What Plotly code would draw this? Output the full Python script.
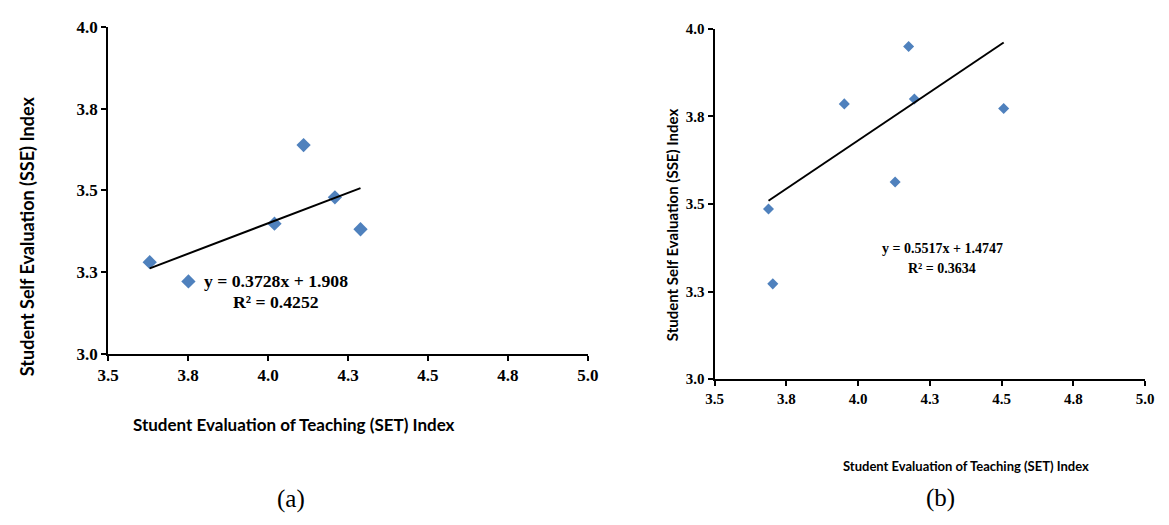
import plotly.graph_objects as go

# ---- data: panel (a)
set_a = [3.630, 3.751, 4.020, 4.111, 4.209, 4.289]
sse_a = [3.280, 3.221, 3.398, 3.639, 3.479, 3.381]
slope_a, icept_a = 0.3728, 1.908
eq_a = "y = 0.3728x + 1.908"
r2_a = "R² = 0.4252"

# ---- data: panel (b)
set_b = [3.688, 3.703, 3.952, 4.129, 4.176, 4.196, 4.507]
sse_b = [3.486, 3.272, 3.786, 3.563, 3.950, 3.800, 3.773]
slope_b, icept_b = 0.5517, 1.4747
eq_b = "y = 0.5517x + 1.4747"
r2_b = "R² = 0.3634"

# ---- ticks
x_tickvals = [3.5, 3.75, 4.0, 4.25, 4.5, 4.75, 5.0]
x_ticktext = ["3.5", "3.8", "4.0", "4.3", "4.5", "4.8", "5.0"]
y_tickvals = [3.0, 3.25, 3.5, 3.75, 4.0]
y_ticktext = ["3.0", "3.3", "3.5", "3.8", "4.0"]

x_title = "Student Evaluation of Teaching (SET) Index"
y_title = "Student Self Evaluation (SSE) Index"

W, H = 1169, 525
MARK = "#4F81BD"
SERIF = "Liberation Serif, Times New Roman, serif"
SANS = "Lato"

def px(x):
    return x / W

def py(y):
    return 1 - y / H

fig = go.Figure()

# panel a
fig.add_trace(go.Scatter(x=set_a, y=sse_a, mode="markers",
                         marker=dict(symbol="diamond", size=11, color=MARK),
                         xaxis="x", yaxis="y", showlegend=False))
xa = [min(set_a), max(set_a)]
fig.add_trace(go.Scatter(x=xa, y=[slope_a * v + icept_a for v in xa], mode="lines",
                         line=dict(color="black", width=2),
                         xaxis="x", yaxis="y", showlegend=False))
# panel b
fig.add_trace(go.Scatter(x=set_b, y=sse_b, mode="markers",
                         marker=dict(symbol="diamond", size=8.5, color=MARK),
                         xaxis="x2", yaxis="y2", showlegend=False))
xb = [min(set_b), max(set_b)]
fig.add_trace(go.Scatter(x=xb, y=[slope_b * v + icept_b for v in xb], mode="lines",
                         line=dict(color="black", width=2),
                         xaxis="x2", yaxis="y2", showlegend=False))

def axis(domain, vals, text, rng, fsize, anchor):
    return dict(domain=domain, range=rng, tickvals=vals, ticktext=text,
                showline=True, linecolor="black", linewidth=2, mirror=False,
                ticks="outside", ticklen=5, tickwidth=2, tickcolor="black",
                showgrid=False, zeroline=False, anchor=anchor,
                tickfont=dict(family=SERIF, size=fsize, color="black", weight="bold"))

fig.update_layout(
    width=W, height=H, margin=dict(l=0, r=0, t=0, b=0),
    paper_bgcolor="white", plot_bgcolor="white",
    xaxis=axis([px(99), px(588)], x_tickvals, x_ticktext, [3.5, 5.0], 17, "y"),
    yaxis=axis([py(357.5), py(19)], y_tickvals, y_ticktext, [3.0, 4.0], 17, "x"),
    xaxis2=axis([px(717), px(1156)], x_tickvals, x_ticktext, [3.5, 5.0], 15, "y2"),
    yaxis2=axis([py(384), py(20.7)], y_tickvals, y_ticktext, [3.0, 4.0], 15, "x2"),
)

ann = []
def add(text, x, y, size, family, bold=True, angle=0):
    t = f"<b>{text}</b>" if bold else text
    ann.append(dict(text=t, x=px(x), y=py(y), xref="paper", yref="paper",
                    showarrow=False, xanchor="center", yanchor="middle",
                    textangle=angle, font=dict(family=family, size=size, color="black")))

add(x_title, 288.5, 431, 17, SANS)
add(y_title, 17, 236, 18, SANS, angle=-90)
add(x_title, 973.5, 474, 13, SANS)
add(y_title, 674, 224, 15, SANS, angle=-90)
add(eq_a, 270, 282, 17.7, SERIF)
add(r2_a, 270, 304, 17.7, SERIF)
add(eq_b, 949, 248, 14, SERIF)
add(r2_b, 949, 269, 14, SERIF)
add("(a)", 285, 508, 25, SERIF, bold=False)
add("(b)", 947, 507, 25, SERIF, bold=False)
fig.update_layout(annotations=ann)

fig.write_html("out.html")
